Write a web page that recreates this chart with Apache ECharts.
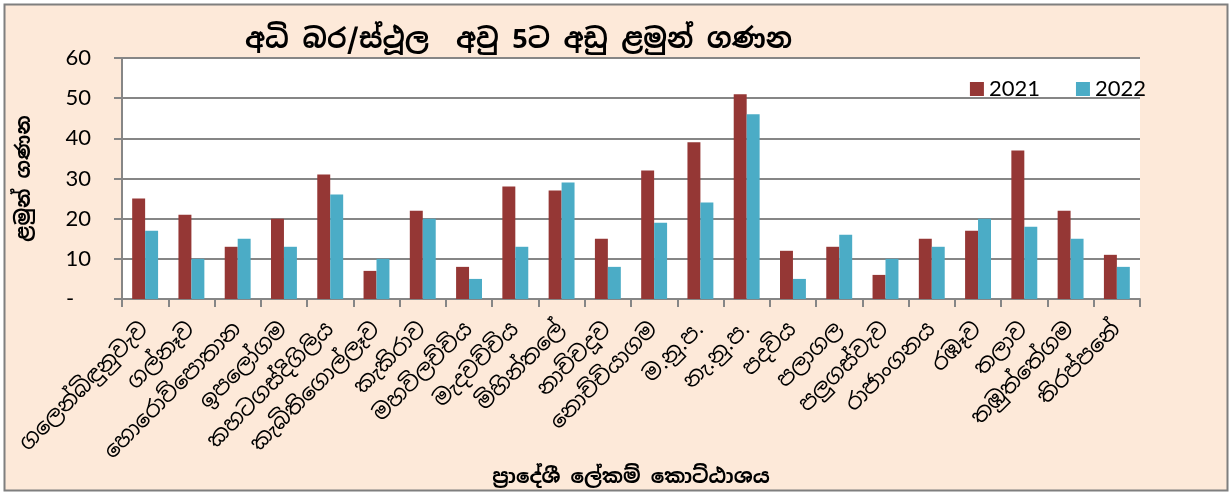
<!DOCTYPE html>
<html>
<head>
<meta charset="utf-8">
<script src="https://cdn.jsdelivr.net/npm/echarts@6/dist/echarts.min.js"></script>
<style>
html,body{margin:0;padding:0;background:#fff;}
#c{width:1229px;height:492px;}
</style>
</head>
<body>
<div id="c"></div>
<script>
var categories = ['ගලෙන්බිඳුනුවැව','ගල්නෑව','හොරොව්පොතාන','ඉපලෝගම','කහටගස්දිගිලිය','කැබිතිගොල්ලෑව','කැකිරාව','මහවිලච්චිය','මැදවච්චිය','මිහින්තලේ','නාච්චදූව','නොච්චියාගම','ම.නු.ප.','නැ.නු.ප.','පදවිය','පලාගල','පලුගස්වැව','රාජාංගනය','රඹෑව','තලාව','තඹුත්තේගම','තිරප්පනේ'];
var values2021 = [25,21,13,20,31,7,22,8,28,27,15,32,39,51,12,13,6,15,17,37,22,11];
var values2022 = [17,10,15,13,26,10,20,5,13,29,8,19,24,46,5,16,10,13,20,18,15,8];
var seriesNames = ['2021','2022'];
var titleText = 'අධි බර/ස්ථූල  අවු 5ට අඩු ළමුන් ගණන';
var xAxisName = 'ප්‍රාදේශී ලේකම් කොට්ඨාශය';
var yAxisName = 'ළමුන් ගණන';

var sinhala = '"Noto Sans Sinhala","Noto Serif Sinhala","Iskoola Pota","LKLUG","Nirmala UI",sans-serif';
var chart = echarts.init(document.getElementById('c'));
chart.setOption({
  backgroundColor: '#ffffff',
  animation: false,
  graphic: [{
    type: 'rect', z: -10, silent: true,
    shape: {x: 4.5, y: 4.5, width: 1223, height: 486},
    style: {fill: '#FDE9D9', stroke: '#7f7f7f', lineWidth: 2}
  }],
  title: {
    text: titleText, left: 240, top: 22,
    textStyle: {fontFamily: sinhala, fontSize: 27, fontWeight: 'bold', color: '#000'}
  },
  legend: {
    data: seriesNames, right: 78, top: 73, itemWidth: 14, itemHeight: 14, itemGap: 36,
    icon: 'rect',
    textStyle: {fontFamily: 'Lato, "Open Sans", sans-serif', fontSize: 22, color: '#000'}
  },
  grid: {left: 122, right: 89, top: 58, bottom: 193, show: true, backgroundColor: '#ffffff', borderWidth: 0},
  xAxis: {
    type: 'category', data: categories,
    name: xAxisName, nameLocation: 'middle', nameGap: 168,
    nameTextStyle: {fontFamily: sinhala, fontSize: 20, fontWeight: 'bold', color: '#000'},
    axisLine: {lineStyle: {color: '#868686', width: 2}},
    axisTick: {show: true, length: 8, alignWithLabel: false, lineStyle: {color: '#868686', width: 2}},
    axisLabel: {rotate: 45, interval: 0, margin: 27, fontFamily: sinhala, fontSize: 22, color: '#000'}
  },
  yAxis: {
    type: 'value', min: 0, max: 60, interval: 10,
    name: yAxisName, nameLocation: 'middle', nameGap: 88, nameRotate: 90,
    nameTextStyle: {fontFamily: sinhala, fontSize: 20, fontWeight: 'bold', color: '#000'},
    axisLine: {show: true, lineStyle: {color: '#868686', width: 2}},
    axisTick: {show: true, length: 8, lineStyle: {color: '#868686', width: 2}},
    splitLine: {lineStyle: {color: '#868686', width: 2}},
    axisLabel: {
      margin: 31, fontFamily: 'Lato, "Open Sans", sans-serif', fontSize: 22, color: '#000',
      formatter: function (v) { return v === 0 ? '-   ' : String(v); }
    }
  },
  series: [
    {name: seriesNames[0], type: 'bar', data: values2021, barGap: '0%', barCategoryGap: '44%',
     itemStyle: {color: '#953735'}},
    {name: seriesNames[1], type: 'bar', data: values2022, barGap: '0%', barCategoryGap: '44%',
     itemStyle: {color: '#4BACC6'}}
  ]
});
</script>
</body>
</html>
